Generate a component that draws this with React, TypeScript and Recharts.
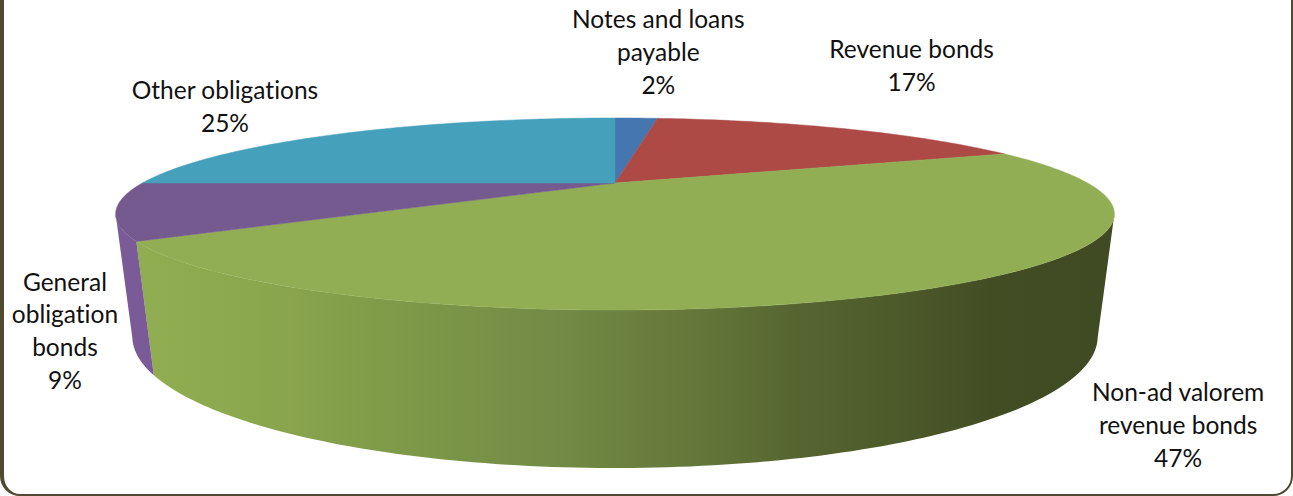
import React from 'react';
import { PieChart, Pie } from 'recharts';

const categories = ['Notes and loans payable', 'Revenue bonds', 'Non-ad valorem revenue bonds', 'General obligation bonds', 'Other obligations'];
// the labels are rounded, these are estimated from the slice edges
const shares = [1.9, 16.9, 46.8, 9.4, 25];
const labelLines = [
  ['Notes and loans', 'payable'],
  ['Revenue bonds'],
  ['Non-ad valorem', 'revenue bonds'],
  ['General', 'obligation', 'bonds'],
  ['Other obligations'],
];
const topColors = ['#4676b0', '#ad4a46', '#91ae54', '#755a90', '#44a0bb'];
const wallColors = ['#4676b0', '#ad4a46', 'url(#greenWall)', '#7a5a97', '#44a0bb'];

// label nudges from the rim point of each slice, [dx, dy]
const labelNudges = [[22, -90], [69, -70.5], [252, 112], [-51, 80], [-118, -34.5]];

const data = categories.map((name, i) => ({ name, value: shares[i] }));

// fake 3D: perspective projection of the pie circle
const TILT = 0.182;
const PERSP = 0.323;
const WALL_H = 0.245;
const WALL_E = 0.031;
const SILHOUETTE = 108.8; // deg from top, where the wall turns away

const project = (cx: number, cy: number, r: number, deg: number, bottom = false) => {
  const t = (deg * Math.PI) / 180;
  const u = Math.sin(t);
  const v = -Math.cos(t);
  const w = 1 - PERSP * v + (bottom ? WALL_E : 0);
  return {
    x: cx + (r * u) / w,
    y: cy + (r * (TILT * v + (bottom ? WALL_H : 0))) / w,
  };
};

const arcPoints = (cx: number, cy: number, r: number, from: number, to: number, bottom = false) => {
  const pts = [];
  const n = Math.max(2, Math.ceil(Math.abs(to - from)));
  for (let i = 0; i <= n; i++) {
    const p = project(cx, cy, r, from + ((to - from) * i) / n, bottom);
    pts.push(`${p.x.toFixed(2)},${p.y.toFixed(2)}`);
  }
  return pts;
};

const TopSlice = (props: any) => {
  const { cx, cy, outerRadius, startAngle, endAngle, index } = props;
  const pts = arcPoints(cx, cy, outerRadius, 90 - startAngle, 90 - endAngle);
  const c = topColors[index];
  return <path d={`M${cx},${cy} L${pts.join(' L')} Z`} fill={c} stroke={c} strokeWidth={0.5} />;
};

const WallSlice = (props: any) => {
  const { cx, cy, outerRadius, startAngle, endAngle, index } = props;
  const from = Math.max(90 - startAngle, SILHOUETTE);
  const to = Math.min(90 - endAngle, 360 - SILHOUETTE);
  if (to <= from) return null;
  const top = arcPoints(cx, cy, outerRadius, from, to);
  const bot = arcPoints(cx, cy, outerRadius, to, from, true);
  return (
    <g>
      <defs>
        <linearGradient id="greenWall" gradientUnits="userSpaceOnUse" x1={130} y1={0} x2={1110} y2={0}>
          <stop offset="0" stopColor="#91ae52" />
          <stop offset="0.12" stopColor="#8ca84e" />
          <stop offset="0.27" stopColor="#7f9a48" />
          <stop offset="0.44" stopColor="#728a45" />
          <stop offset="0.58" stopColor="#64773a" />
          <stop offset="0.68" stopColor="#566530" />
          <stop offset="0.78" stopColor="#4d5a2a" />
          <stop offset="0.88" stopColor="#434d24" />
          <stop offset="1" stopColor="#404a23" />
        </linearGradient>
      </defs>
      <path d={`M${top.join(' L')} L${bot.join(' L')} Z`} fill={wallColors[index]} />
    </g>
  );
};

const SliceLabel = (props: any) => {
  const { cx, cy, outerRadius, midAngle, index, value } = props;
  const rim = project(cx, cy, outerRadius, 90 - midAngle);
  const [dx, dy] = labelNudges[index];
  const lines = [...labelLines[index], `${Math.round(value)}%`];
  return (
    <text
      x={rim.x + dx}
      y={rim.y + dy}
      textAnchor="middle"
      fontFamily="Lato, sans-serif"
      fontSize={24.5}
      fill="#111"
      style={{ fontVariantLigatures: 'none' }}
    >
      {lines.map((line, i) => (
        <tspan key={i} x={rim.x + dx} dy={i === 0 ? 0 : 32.8}>{line}</tspan>
      ))}
    </text>
  );
};

export default function App() {
  return (
    <div style={{ position: 'fixed', left: 0, top: 0, width: 1293, height: 496, overflow: 'hidden', background: '#fff' }}>
      <div
        style={{
          position: 'absolute',
          left: 0,
          top: -30,
          width: 1293,
          height: 526,
          boxSizing: 'border-box',
          borderStyle: 'solid',
          borderColor: '#4f4a30',
          borderWidth: '2px 2px 2px 4px',
          borderRadius: 20,
        }}
      />
      <div style={{ position: 'absolute', left: 0, top: 0 }}>
        <PieChart width={1293} height={496} margin={{ top: 0, right: 0, bottom: 0, left: 0 }}>
          <Pie
            data={data}
            dataKey="value"
            nameKey="name"
            cx={615}
            cy={183}
            innerRadius={0}
            outerRadius={472.6}
            startAngle={90}
            endAngle={-270}
            stroke="none"
            shape={WallSlice}
            activeShape={WallSlice}
            inactiveShape={WallSlice}
            isAnimationActive={false}
            labelLine={false}
            label={false}
          />
          <Pie
            data={data}
            dataKey="value"
            nameKey="name"
            cx={615}
            cy={183}
            innerRadius={0}
            outerRadius={472.6}
            startAngle={90}
            endAngle={-270}
            stroke="none"
            shape={TopSlice}
            activeShape={TopSlice}
            inactiveShape={TopSlice}
            isAnimationActive={false}
            labelLine={false}
            label={SliceLabel}
          />
        </PieChart>
      </div>
    </div>
  );
}
